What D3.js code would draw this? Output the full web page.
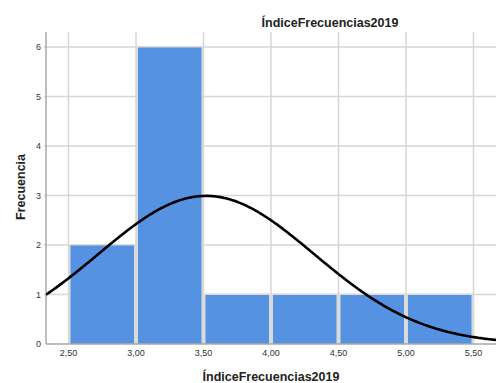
<!DOCTYPE html>
<html>
<head>
<meta charset="utf-8">
<script src="https://cdn.jsdelivr.net/npm/d3@7"></script>
<style>
  html, body { margin: 0; padding: 0; background: #fff; }
  svg { display: block; font-family: "Liberation Sans", Arial, sans-serif; }
</style>
</head>
<body>
<svg id="chart" width="496" height="383"></svg>
<script>
// Histogram bins (lower edge, upper edge) and their frequencies
const binStarts = [2.5, 3.0, 3.5, 4.0, 4.5, 5.0];
const binEnds   = [3.0, 3.5, 4.0, 4.5, 5.0, 5.5];
const counts    = [2, 6, 1, 1, 1, 1];

// Tick values on both axes
const xTicks = [2.5, 3.0, 3.5, 4.0, 4.5, 5.0, 5.5];
const yTicks = [0, 1, 2, 3, 4, 5, 6];

// Fitted normal curve parameters
const sampleMean = 3.52;
const sampleSD = 0.80;
const sampleN = 12;
const binWidth = 0.5;

const title = "ÍndiceFrecuencias2019";
const xLabel = "ÍndiceFrecuencias2019";
const yLabel = "Frecuencia";

(function draw() {
  const svg = d3.select("#chart");
  const plotL = 46, plotT = 32, plotB = 344, plotR = 510;

  const x = d3.scaleLinear().domain([2.5, 5.5]).range([68.5, 473.5]);
  const xMin = x.invert(plotL), xMax = x.invert(plotR);
  const y = d3.scaleLinear().domain([0, 6]).range([plotB, 47]);

  const fmt = d => d.toFixed(2).replace(".", ",");

  // grid
  const grid = svg.append("g");
  grid.selectAll("line.h").data(yTicks.filter(d => d > 0)).join("line")
    .attr("x1", plotL - 2).attr("x2", plotR)
    .attr("y1", d => y(d)).attr("y2", d => y(d))
    .attr("stroke", "#d6d6d6").attr("stroke-width", 1.5);
  grid.selectAll("line.v").data(xTicks).join("line")
    .attr("x1", d => x(d)).attr("x2", d => x(d))
    .attr("y1", plotT).attr("y2", plotB)
    .attr("stroke", "#d6d6d6").attr("stroke-width", 1.5);

  // bars
  const bins = binStarts.map((s, i) => ({ x0: s, x1: binEnds[i], n: counts[i] }));
  const bars = svg.append("g");
  bars.selectAll("rect.edge").data(bins).join("rect")
    .attr("x", d => x(d.x0)).attr("width", d => x(d.x1) - x(d.x0))
    .attr("y", d => y(d.n) - 1).attr("height", d => plotB - y(d.n) + 1)
    .attr("fill", "#dadada");
  bars.selectAll("rect.fill").data(bins).join("rect")
    .attr("x", d => x(d.x0) + 2).attr("width", d => x(d.x1) - x(d.x0) - 4)
    .attr("y", d => y(d.n) + 0.5).attr("height", d => plotB - y(d.n) - 0.5)
    .attr("fill", "#5592e2");

  // axis lines
  svg.append("line").attr("x1", plotL).attr("x2", plotL).attr("y1", plotT).attr("y2", plotB)
    .attr("stroke", "#a8a8a8").attr("stroke-width", 1.5);
  svg.append("line").attr("x1", plotL).attr("x2", plotR).attr("y1", plotB).attr("y2", plotB)
    .attr("stroke", "#a8a8a8").attr("stroke-width", 1.5);

  // normal curve
  svg.append("clipPath").attr("id", "plotclip").append("rect")
    .attr("x", plotL).attr("y", plotT - 10).attr("width", plotR - plotL).attr("height", plotB - plotT + 10);
  const peak = sampleN * binWidth / (sampleSD * Math.sqrt(2 * Math.PI));
  const curvePts = d3.range(xMin, xMax + 0.01, 0.01)
    .map(v => [v, peak * Math.exp(-0.5 * ((v - sampleMean) / sampleSD) ** 2)]);
  svg.append("path").datum(curvePts)
    .attr("clip-path", "url(#plotclip)")
    .attr("d", d3.line().x(d => x(d[0])).y(d => y(d[1])))
    .attr("fill", "none").attr("stroke", "#000").attr("stroke-width", 2.6);

  // tick labels
  svg.append("g").selectAll("text").data(xTicks).join("text")
    .attr("x", d => x(d)).attr("y", 356)
    .attr("text-anchor", "middle").attr("font-size", 9).attr("fill", "#333")
    .text(fmt);
  svg.append("g").selectAll("text").data(yTicks).join("text")
    .attr("x", 41).attr("y", d => y(d)).attr("dy", "0.35em")
    .attr("text-anchor", "end").attr("font-size", 9).attr("fill", "#333")
    .text(d => d);

  // titles
  svg.append("text").attr("x", 330).attr("y", 27).attr("text-anchor", "middle")
    .attr("font-size", 12.5).attr("font-weight", "bold").attr("fill", "#222").text(title);
  svg.append("text").attr("x", 271).attr("y", 381).attr("text-anchor", "middle")
    .attr("font-size", 12.5).attr("font-weight", "bold").attr("fill", "#222").text(xLabel);
  svg.append("text").attr("transform", "translate(25,187) rotate(-90)").attr("text-anchor", "middle")
    .attr("font-size", 12.5).attr("font-weight", "bold").attr("fill", "#222").text(yLabel);
})();
</script>
</body>
</html>
